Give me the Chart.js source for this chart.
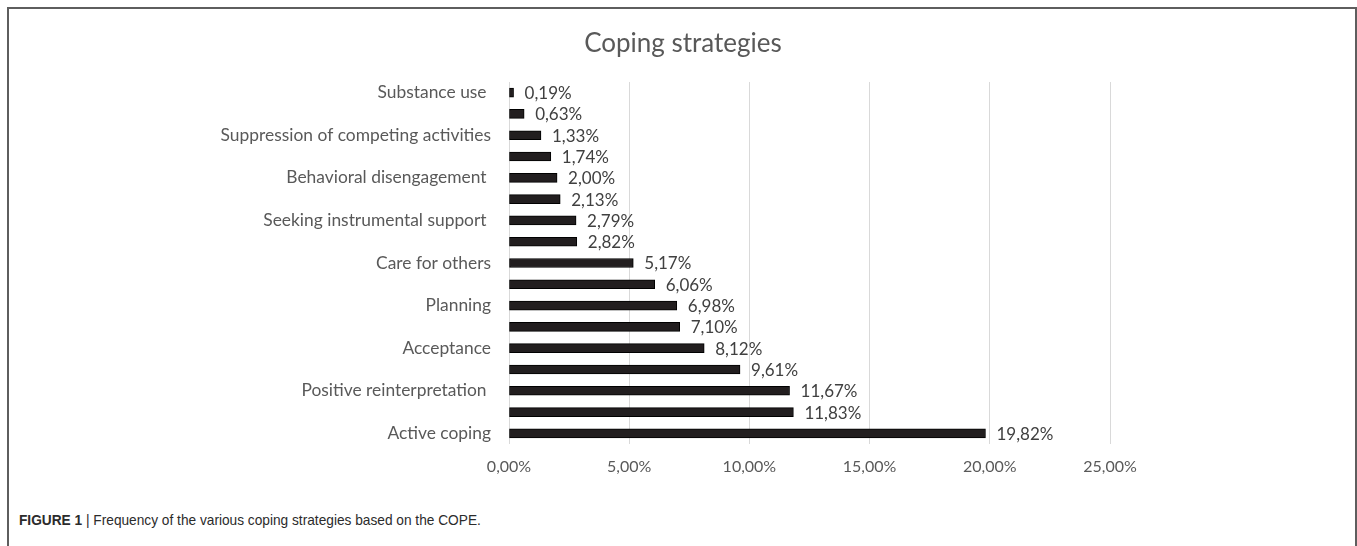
<!DOCTYPE html>
<html>
<head>
<meta charset="utf-8">
<script src="https://cdn.jsdelivr.net/npm/chart.js@4"></script>
<style>
  body { margin: 0; background: #fff; }
  #frame { position: absolute; left: 7px; top: 7px; width: 1346px; height: 600px;
           border: 2px solid #5e5e5e; border-bottom: none; }
  #box { position: absolute; left: 8px; top: 8px; width: 1346px; height: 480px; }
  #caption { position: absolute; left: 19px; top: 511px; font-family: "Liberation Sans Narrow", "Arial Narrow", Arial, sans-serif;
             font-size: 15px; color: #2b2b2b; white-space: nowrap; transform: scaleX(0.913); transform-origin: left top; }
  #caption b { font-weight: bold; }
</style>
</head>
<body>
<div id="frame"></div>
<div id="box"><canvas id="copingChart"></canvas></div>
<div id="caption"><b>FIGURE 1</b> | Frequency of the various coping strategies based on the COPE.</div>
<script>
// Only every other category name is printed in the original figure
var categories = ['Substance use ', '', 'Suppression of competing activities', '', 'Behavioral disengagement ', '',
    'Seeking instrumental support ', '', 'Care for others', '', 'Planning', '', 'Acceptance', '',
    'Positive reinterpretation ', '', 'Active coping'];
var frequencies = [0.19, 0.63, 1.33, 1.74, 2.00, 2.13, 2.79, 2.82, 5.17, 6.06, 6.98, 7.10, 8.12, 9.61, 11.67, 11.83, 19.82];
var xTicks = [0, 5, 10, 15, 20, 25];
var chartTitle = 'Coping strategies';

function pct(v) {
    return v.toFixed(2).replace('.', ',') + '%';
}

// value labels at the end of each bar + title centred on the whole figure
var extras = {
    id: 'extras',
    afterDatasetsDraw: function (chart) {
        var ctx = chart.ctx;
        var meta = chart.getDatasetMeta(0);
        ctx.save();
        ctx.font = '17px Lato';
        ctx.fillStyle = '#404040';
        ctx.textAlign = 'left';
        ctx.textBaseline = 'middle';
        meta.data.forEach(function (bar, i) {
            ctx.fillText(pct(frequencies[i]), bar.x + 11, bar.y + 1);
        });
        ctx.font = '26px Lato';
        ctx.fillStyle = '#595959';
        ctx.textAlign = 'center';
        ctx.fillText(chartTitle, chart.width / 2 + 2, 36);
        ctx.restore();
    }
};

var ctx = document.getElementById('copingChart').getContext('2d');
var copingChart = new Chart(ctx, {
    type: 'bar',
    data: {
        labels: categories,
        datasets: [{
            data: frequencies,
            backgroundColor: '#221e1f',
            borderColor: '#000000',
            borderWidth: 1,
            borderSkipped: false,
            barThickness: 9
        }]
    },
    options: {
        indexAxis: 'y',
        responsive: true,
        maintainAspectRatio: false,
        animation: false,
        layout: { padding: { left: 0, right: 244, top: 74, bottom: 0 } },
        plugins: {
            legend: { display: false },
            tooltip: { enabled: false },
            title: { display: false }
        },
        scales: {
            x: {
                min: 0,
                max: 25,
                afterBuildTicks: function (axis) {
                    axis.ticks = xTicks.map(function (v) { return { value: v }; });
                },
                afterFit: function (axis) { axis.height = 44; },
                grid: { color: '#d9d9d9', drawTicks: false, lineWidth: 1 },
                border: { display: false },
                ticks: {
                    color: '#595959',
                    font: { family: 'Lato', size: 16 },
                    padding: 13,
                    callback: function (v) { return pct(v); }
                }
            },
            y: {
                afterFit: function (axis) { axis.width = 501; },
                grid: { display: false, drawTicks: false },
                border: { display: false },
                ticks: {
                    autoSkip: false,
                    color: '#595959',
                    font: { family: 'Lato', size: 17.4 },
                    padding: 18
                }
            }
        }
    },
    plugins: [extras]
});
</script>
</body>
</html>
